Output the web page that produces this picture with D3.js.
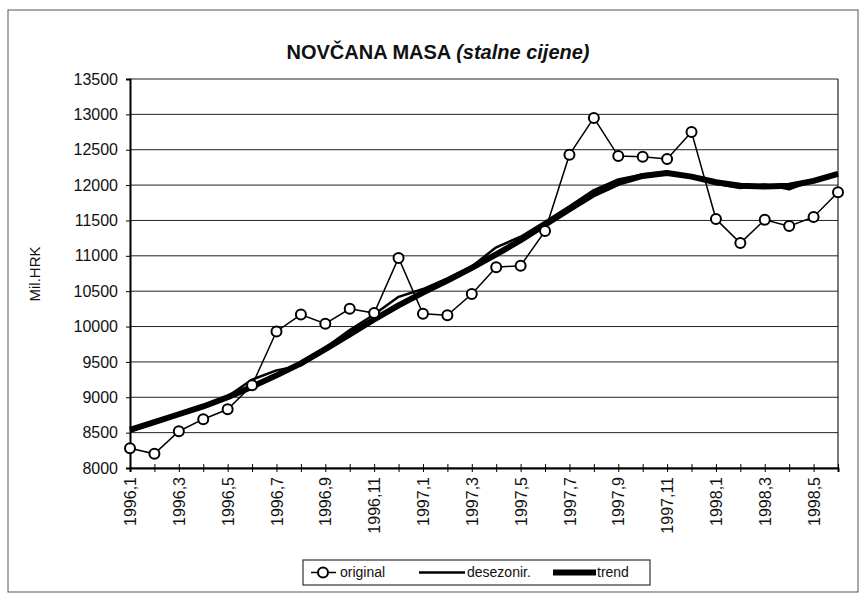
<!DOCTYPE html>
<html><head><meta charset="utf-8">
<script src="https://cdn.jsdelivr.net/npm/d3@7"></script>
<style>
body{margin:0;background:#fff;}
text{font-family:"Liberation Sans",Arial,sans-serif;fill:#111;}
</style></head>
<body><svg id="c" width="868" height="603"></svg>
<script>
const categories = ["1996,1","1996,2","1996,3","1996,4","1996,5","1996,6","1996,7","1996,8","1996,9","1996,10","1996,11","1996,12",
  "1997,1","1997,2","1997,3","1997,4","1997,5","1997,6","1997,7","1997,8","1997,9","1997,10","1997,11","1997,12",
  "1998,1","1998,2","1998,3","1998,4","1998,5","1998,6"];
const original = [8280,8200,8520,8690,8830,9170,9930,10170,10040,10250,10190,10970,
  10180,10160,10460,10840,10860,11350,12430,12950,12410,12400,12370,12750,
  11520,11180,11510,11420,11550,11900];
const desezonir = [8520,8640,8760,8880,9010,9250,9380,9450,9700,9950,10170,10420,
  10530,10680,10850,11120,11270,11480,11700,11930,12080,12150,12190,12110,
  12020,11960,12010,11940,12070,12170];
const trend = [8540,8650,8760,8870,9000,9150,9310,9480,9680,9890,10100,10300,
  10480,10650,10830,11020,11220,11440,11660,11870,12030,12130,12170,12120,
  12040,11990,11980,11990,12060,12160];
const yTicks = [8000,8500,9000,9500,10000,10500,11000,11500,12000,12500,13000,13500];
const title1 = "NOVČANA MASA ";
const title2 = "(stalne cijene)";
const yTitle = "Mil.HRK";
const legendLabels = ["original","desezonir.","trend"];

const svg = d3.select("#c");
const L=130, R=838, T=79, B=468;
const x = d3.scalePoint().domain(categories).range([L,R]);
const y = d3.scaleLinear().domain([8000,13500]).range([B,T]);

// outer frame
svg.append("rect").attr("x",8).attr("y",10).attr("width",850).attr("height",582)
  .attr("fill","none").attr("stroke","#555").attr("stroke-width",1);

// title
const t = svg.append("text").attr("x",438).attr("y",59).attr("text-anchor","middle")
  .style("font-size","20px").style("font-weight","bold");
t.append("tspan").text(title1);
t.append("tspan").style("font-style","italic").text(title2);

// gridlines
svg.append("g").selectAll("line").data(yTicks).join("line")
  .attr("x1",L).attr("x2",R).attr("y1",d=>y(d)).attr("y2",d=>y(d))
  .attr("stroke","#222").attr("stroke-width",1);
// right border
svg.append("line").attr("x1",R).attr("x2",R).attr("y1",T).attr("y2",B).attr("stroke","#222").attr("stroke-width",1.2);

// y axis
const ya = svg.append("g").attr("transform",`translate(${L},0)`)
  .call(d3.axisLeft(y).tickValues(yTicks).tickSize(4).tickPadding(8).tickFormat(d3.format("d")));
ya.select(".domain").attr("stroke","#000").attr("stroke-width",2);
ya.selectAll(".tick line").attr("stroke","#000");
ya.selectAll("text").style("font-size","16px").style("font-family","Liberation Sans, Arial, sans-serif");

// x axis
const xa = svg.append("g").attr("transform",`translate(0,${B})`)
  .call(d3.axisBottom(x).tickSize(4).tickPadding(8).tickFormat((d,i)=> i%2===0 ? d : ""));
xa.select(".domain").attr("stroke","#000").attr("stroke-width",2);
xa.selectAll(".tick line").attr("stroke","#000").attr("y1",-4).attr("y2",4);
xa.selectAll("text").style("font-size","16px").style("font-family","Liberation Sans, Arial, sans-serif")
  .attr("transform","rotate(-90)").attr("text-anchor","end").attr("dy","0.35em").attr("x",-9).attr("y",0);

// y title
svg.append("text").attr("transform","translate(40,274) rotate(-90)").attr("text-anchor","middle")
  .style("font-size","15px").text(yTitle);

const line = d3.line().x((d,i)=>x(categories[i])).y(d=>y(d));
svg.append("path").datum(trend).attr("d",line).attr("fill","none").attr("stroke","#000").attr("stroke-width",6).attr("stroke-linejoin","round");
svg.append("path").datum(desezonir).attr("d",line).attr("fill","none").attr("stroke","#000").attr("stroke-width",2.5).attr("stroke-linejoin","round");
svg.append("path").datum(original).attr("d",line).attr("fill","none").attr("stroke","#000").attr("stroke-width",1.5);
svg.append("g").selectAll("circle").data(original).join("circle")
  .attr("cx",(d,i)=>x(categories[i])).attr("cy",d=>y(d)).attr("r",5)
  .attr("fill","#fff").attr("stroke","#000").attr("stroke-width",2);

// legend
const lg = svg.append("g");
lg.append("rect").attr("x",303).attr("y",560).attr("width",347).attr("height",25)
  .attr("fill","#fff").attr("stroke","#333").attr("stroke-width",1.2);
const ly = 572.5;
lg.append("line").attr("x1",311).attr("x2",336).attr("y1",ly).attr("y2",ly).attr("stroke","#000").attr("stroke-width",1.5);
lg.append("circle").attr("cx",323).attr("cy",ly).attr("r",5).attr("fill","#fff").attr("stroke","#000").attr("stroke-width",2);
lg.append("text").attr("x",340).attr("y",ly).attr("dy","0.35em").style("font-size","14px").text(legendLabels[0]);
lg.append("line").attr("x1",419).attr("x2",465).attr("y1",ly).attr("y2",ly).attr("stroke","#000").attr("stroke-width",2.5);
lg.append("text").attr("x",467).attr("y",ly).attr("dy","0.35em").style("font-size","14px").text(legendLabels[1]);
lg.append("line").attr("x1",553).attr("x2",596).attr("y1",ly).attr("y2",ly).attr("stroke","#000").attr("stroke-width",6);
lg.append("text").attr("x",597).attr("y",ly).attr("dy","0.35em").style("font-size","14px").text(legendLabels[2]);
</script></body></html>
